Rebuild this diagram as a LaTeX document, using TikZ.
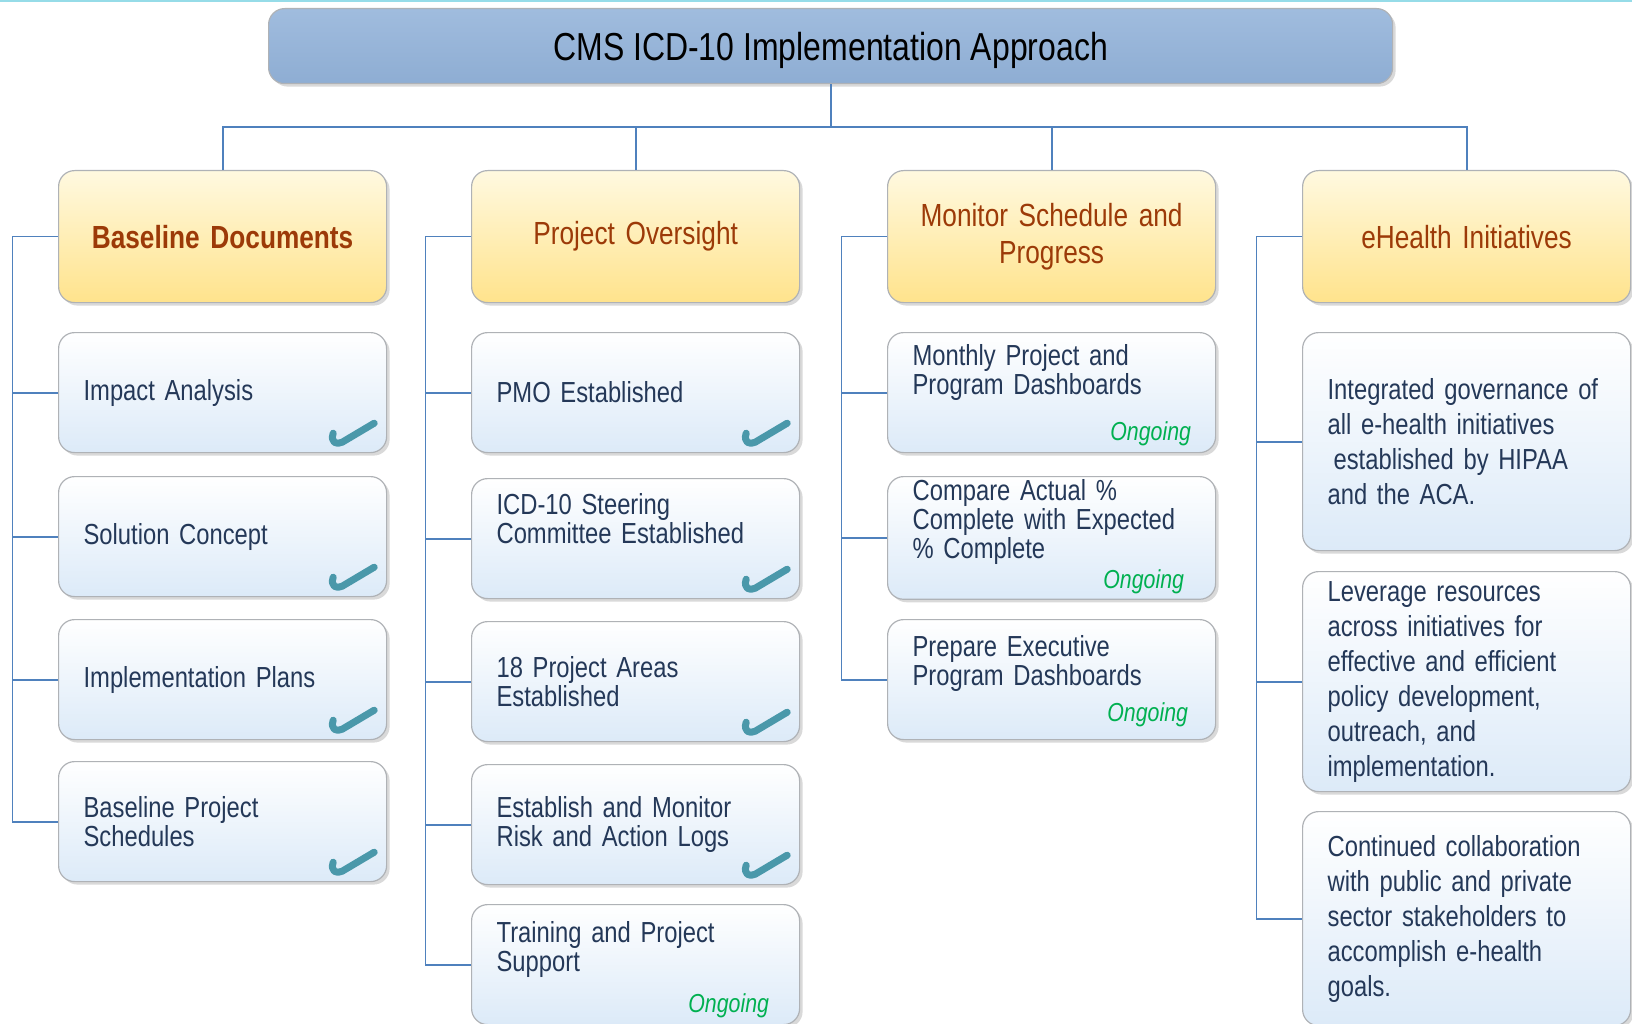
\documentclass[tikz,border=0pt]{standalone}
\usepackage{fontspec}
\setmainfont{Liberation Sans}
\newfontfamily\narrowfont[FakeStretch=0.82]{Liberation Sans}
\usepackage{tikz}
\usetikzlibrary{shadows}

\definecolor{linkblue}{RGB}{79,129,189}
\definecolor{boxgray}{RGB}{175,178,182}
\definecolor{titletop}{RGB}{160,188,222}
\definecolor{titlebot}{RGB}{142,173,211}
\definecolor{headtop}{RGB}{255,249,224}
\definecolor{headbot}{RGB}{255,227,140}
\definecolor{headtext}{RGB}{156,58,8}
\definecolor{itembot}{RGB}{220,234,248}
\definecolor{itemtext}{RGB}{36,56,88}
\definecolor{ongoing}{RGB}{0,176,80}
\definecolor{tickteal}{RGB}{74,152,170}
\definecolor{topline}{RGB}{150,220,232}

\tikzset{
  link/.style={draw=linkblue, line width=1.8pt},
  boxbase/.style={rectangle, rounded corners=16pt, draw=boxgray, line width=1.2pt,
    anchor=north west,
    drop shadow={shadow xshift=3pt, shadow yshift=-3pt, opacity=0.3}},
  titlebox/.style={boxbase, top color=titletop, bottom color=titlebot,
    minimum width=1124pt, minimum height=75pt, text=black,
    text height=37pt, text depth=8pt,
    font=\narrowfont\fontsize{39}{44}\selectfont},
  headbox/.style={boxbase, top color=headtop, bottom color=headbot,
    minimum width=328pt, minimum height=132pt, text width=300pt, inner xsep=14pt,
    align=center, text=headtext, font=\narrowfont\fontsize{32}{37}\selectfont},
  itembox/.style={boxbase, top color=white, bottom color=itembot,
    minimum width=328pt, minimum height=120pt, text width=278pt, inner xsep=25pt,
    align=left, text=itemtext, font=\narrowfont\fontsize{29}{29}\selectfont},
  notebox/.style={itembox, font=\narrowfont\fontsize{29}{35}\selectfont},
  liftup/.style={text depth=#1},
  status/.style={anchor=base east, inner sep=0pt, text=ongoing,
    font=\narrowfont\itshape\fontsize{26}{30}\selectfont},
  done/.style={draw=tickteal, line width=7pt, line cap=round, line join=round}
}

% check mark in the lower right corner of a box
\newcommand{\donemark}[1]{%
  \draw[done] ([xshift=-54pt,yshift=20pt]#1.south east)
    .. controls ([xshift=-57pt,yshift=11pt]#1.south east) and ([xshift=-51pt,yshift=8pt]#1.south east)
    .. ([xshift=-45pt,yshift=11pt]#1.south east) -- ([xshift=-13pt,yshift=30pt]#1.south east);}

\begin{document}
\begin{tikzpicture}[x=1pt,y=-1pt]
\useasboundingbox (0,0) rectangle (1632,1024);
\draw[topline, line width=2pt] (0,1) -- (1632,1);

\node[titlebox] (approach) at (268,8) {CMS ICD-10 Implementation Approach};

\node[headbox] (baseline) at (58,170) {\bfseries Baseline Documents};
\node[headbox] (oversight) at (471,170) {Project Oversight};
\node[headbox] (monitor) at (887,170) {Monitor Schedule and\\Progress};
\node[headbox] (ehealth) at (1302,170) {eHealth Initiatives};

% Baseline Documents
\node[itembox] (impact) at (58,332) {Impact Analysis};
\node[itembox] (concept) at (58,476) {Solution Concept};
\node[itembox] (plans) at (58,619) {Implementation Plans};
\node[itembox] (schedules) at (58,761) {Baseline Project\\Schedules};

% Project Oversight
\node[itembox] (pmo) at (471,332) {PMO Established};
\node[itembox, liftup=69pt] (steering) at (471,478) {ICD-10 Steering\\Committee Established};
\node[itembox] (areas) at (471,621) {18 Project Areas\\Established};
\node[itembox] (risklog) at (471,764) {Establish and Monitor\\Risk and Action Logs};
\node[itembox, liftup=65pt] (training) at (471,904) {Training and Project\\Support};

% Monitor Schedule and Progress
\node[itembox, liftup=76pt] (monthly) at (887,332) {Monthly Project and\\Program Dashboards};
\node[itembox, liftup=95pt] (compare) at (887,476) {Compare Actual \%\\Complete with Expected\\\% Complete};
\node[itembox, liftup=68pt] (execdash) at (887,619) {Prepare Executive\\Program Dashboards};

% eHealth Initiatives
\node[notebox, minimum height=218pt] (governance) at (1302,332)
  {Integrated governance of\\all e-health initiatives\\\hspace*{6pt}established by HIPAA\\and the ACA.};
\node[notebox, minimum height=220pt] (leverage) at (1302,571)
  {Leverage resources\\across initiatives for\\effective and efficient\\policy development,\\outreach, and\\implementation.};
\node[notebox, minimum height=214pt] (collab) at (1302,811)
  {Continued collaboration\\with public and private\\sector stakeholders to\\accomplish e-health\\goals.};

% status
\donemark{impact}
\donemark{concept}
\donemark{plans}
\donemark{schedules}
\donemark{pmo}
\donemark{steering}
\donemark{areas}
\donemark{risklog}
\node[status] (ongtrain) at ([xshift=-31pt,yshift=13pt]training.south east) {Ongoing};
\node[status] (ongmonth) at ([xshift=-25pt,yshift=13pt]monthly.south east) {Ongoing};
\node[status] (ongcomp) at ([xshift=-32pt,yshift=11pt]compare.south east) {Ongoing};
\node[status] (ongexec) at ([xshift=-28pt,yshift=19pt]execdash.south east) {Ongoing};

% tree connectors
\coordinate (bus) at (0,127);
\draw[link] (approach.south) -- (approach.south |- bus);
\draw[link] (baseline.north) -- (baseline.north |- bus) -- (ehealth.north |- bus) -- (ehealth.north);
\draw[link] (oversight.north) -- (oversight.north |- bus);
\draw[link] (monitor.north) -- (monitor.north |- bus);

\draw[link] (baseline.west) -- ++(-45.5,0) |- (schedules.west);
\draw[link] (impact.west) -- ++(-45.5,0);
\draw[link] (concept.west) -- ++(-45.5,0);
\draw[link] (plans.west) -- ++(-45.5,0);

\draw[link] (oversight.west) -- ++(-45.5,0) |- (training.west);
\draw[link] (pmo.west) -- ++(-45.5,0);
\draw[link] (steering.west) -- ++(-45.5,0);
\draw[link] (areas.west) -- ++(-45.5,0);
\draw[link] (risklog.west) -- ++(-45.5,0);

\draw[link] (monitor.west) -- ++(-45.5,0) |- (execdash.west);
\draw[link] (monthly.west) -- ++(-45.5,0);
\draw[link] (compare.west) -- ++(-45.5,0);

\draw[link] (ehealth.west) -- ++(-45.5,0) |- (collab.west);
\draw[link] (governance.west) -- ++(-45.5,0);
\draw[link] (leverage.west) -- ++(-45.5,0);
\end{tikzpicture}
\end{document}
